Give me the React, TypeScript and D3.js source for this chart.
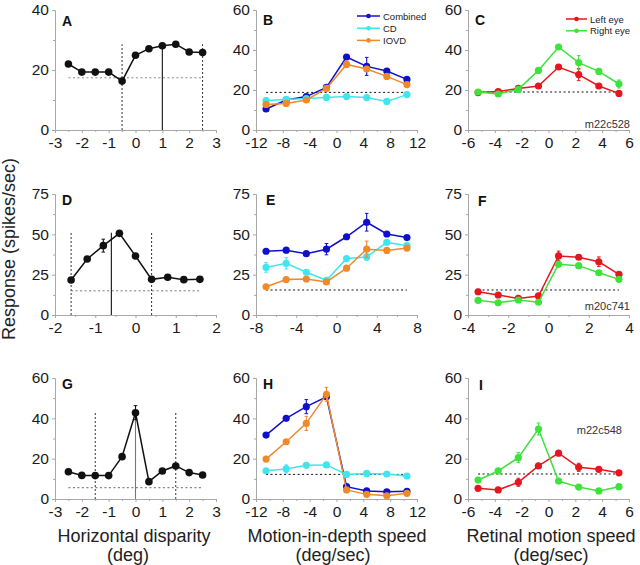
import React, { useEffect, useRef } from "react";
import * as d3 from "d3";

const W = 640;
const H = 565;
const FONT = "'Liberation Sans', Arial, Helvetica, sans-serif";

// ---------- x values ----------
const dispAG = [-2.5, -2, -1.5, -1, -0.5, 0, 0.5, 1, 1.5, 2, 2.5];
const dispD = [-1.6, -1.2, -0.8, -0.4, 0, 0.4, 0.8, 1.2, 1.6];
const speedBH = [-10.5, -7.5, -4.5, -1.5, 1.5, 4.5, 7.5, 10.5];
const speedE = [-7, -5, -3, -1, 1, 3, 5, 7];
const retCI = [-5.25, -3.75, -2.25, -0.75, 0.75, 2.25, 3.75, 5.25];
const retF = [-3.5, -2.5, -1.5, -0.5, 0.5, 1.5, 2.5, 3.5];

// ---------- disparity tuning (black) ----------
const respA = [22, 19.3, 19.3, 19.3, 16.3, 24.9, 27.1, 28.1, 28.6, 26, 25.8];
const errA = [0, 0, 0, 0, 0, 0, 0, 0, 0, 0, 0];
const respD = [21.7, 34.7, 43, 50.6, 36.6, 22.1, 23.4, 21.9, 22.1];
const errD = [0, 0, 4, 0, 0, 0, 0, 0, 0];
const respG = [13.5, 11.7, 11.6, 11.6, 21, 42.8, 8.6, 13.9, 16.4, 13.1, 11.9];
const errG = [0, 0, 0, 0, 0, 3.5, 0, 0, 0, 0, 0];

// ---------- motion-in-depth (Combined, CD, IOVD) ----------
const combB = [10.5, 15, 16.7, 21.3, 36.5, 31.8, 29.5, 25.3];
const combBErr = [0, 0, 0, 0, 0, 4.5, 1, 0];
const cdB = [14.7, 15.3, 15.7, 16.3, 16.7, 16.2, 14.3, 17.7];
const cdBErr = [0, 0, 0, 0, 0, 0, 0, 0];
const iovdB = [12.8, 13.3, 15, 20.8, 32.8, 30.5, 26.8, 22.7];
const iovdBErr = [0, 0, 0, 0, 1.5, 0, 0, 0];

const combE = [39.5, 40.2, 38, 40.8, 48.5, 57.5, 50.2, 48];
const combEErr = [0, 0, 0, 3.5, 0, 5.5, 0, 0];
const cdE = [29.5, 32, 26.5, 21.5, 35, 36, 45, 43];
const cdEErr = [3, 3.5, 0, 0, 0, 2, 0, 0];
const iovdE = [17.5, 22, 22.3, 20.5, 29, 40.8, 40, 41.5];
const iovdEErr = [0, 0, 0, 0, 0, 5, 0, 0];

const combH = [31.7, 40, 45.8, 50.7, 6.1, 4, 3.6, 3.8];
const combHErr = [0, 0, 3.5, 0, 0, 0, 0, 0];
const cdH = [14, 14.9, 16.7, 16.9, 12.2, 12.7, 12.4, 11.4];
const cdHErr = [0, 2, 0, 0, 0, 0, 0, 0];
const iovdH = [19.8, 28.4, 37.5, 51.9, 4.5, 2.3, 1.6, 2.8];
const iovdHErr = [0, 0, 3.5, 3.5, 0, 0, 0, 0];

// ---------- retinal motion (Left eye, Right eye) ----------
const leftC = [18.7, 19.2, 20.8, 22, 31.5, 27.7, 22, 18.3];
const leftCErr = [0, 0, 0, 0, 0, 3, 0, 0];
const rightC = [19, 18, 20.3, 29.8, 41.5, 33.7, 29.3, 23];
const rightCErr = [0, 0, 0, 0, 0, 3.5, 1.5, 2];

const leftF = [14.4, 12.4, 10.3, 11.8, 36.6, 35.8, 33, 25.2];
const leftFErr = [1.5, 0, 0, 0, 3, 0, 3, 0];
const rightF = [9.1, 7.6, 9.3, 7.9, 31.4, 30.6, 26.2, 22.1];
const rightFErr = [0, 0, 0, 0, 0, 0, 0, 0];

const leftI = [5.3, 4.5, 8.3, 16.4, 22.7, 15.7, 14.7, 13];
const leftIErr = [0, 0, 2, 0, 0, 2, 0, 0];
const rightI = [9.4, 13.9, 20.5, 34.7, 8.9, 5.9, 4, 6.1];
const rightIErr = [0, 0, 2.5, 3, 0, 0, 0, 0];

// ---------- spontaneous baselines ----------
const baseA = 17.4, baseD = 15, baseG = 5.6;
const baseB = 18.8, baseE = 15.5, baseH = 12.2;
const baseC = 19, baseF = 15.5, baseI = 12.4;

// ---------- labels ----------
const mdLegend = ["Combined", "CD", "IOVD"];
const eyeLegend = ["Left eye", "Right eye"];
const cellIds = ["m22c528", "m20c741", "m22c548"];
const panelLetters = ["A", "B", "C", "D", "E", "F", "G", "H", "I"];
const xTitles = [["Horizontal disparity", "(deg)"], ["Motion-in-depth speed", "(deg/sec)"], ["Retinal motion speed", "(deg/sec)"]];
const yTitle = "Response (spikes/sec)";

// ---------- ticks ----------
const ticks40 = [0, 20, 40], minor40 = [10, 30];
const ticks60 = [0, 20, 40, 60], minor60 = [10, 30, 50];
const ticks75 = [0, 25, 50, 75], minor75 = [12.5, 37.5, 62.5];
const xt3 = [-3, -2, -1, 0, 1, 2, 3], xm3 = [-2.5, -1.5, -0.5, 0.5, 1.5, 2.5];
const xt2 = [-2, -1, 0, 1, 2], xm2 = [-1.5, -0.5, 0.5, 1.5];
const xt12 = [-12, -8, -4, 0, 4, 8, 12], xm12 = [-10, -6, -2, 2, 6, 10];
const xt8 = [-8, -4, 0, 4, 8], xm8 = [-6, -2, 2, 6];
const xt6 = [-6, -4, -2, 0, 2, 4, 6], xm6 = [-5, -3, -1, 1, 3, 5];
const xt4 = [-4, -2, 0, 2, 4], xm4 = [-3, -1, 1, 3];

const BLACK = "#111";
const BLUE = "#1010cc";
const CYAN = "#3fe6f0";
const ORANGE = "#f0892a";
const RED = "#e6161e";
const GREEN = "#3de23d";

type Series = { x: number[]; y: number[]; err: number[]; color: string; r: number; w: number };
type VLine = { x: number; top: number; solid: boolean; color: string };
type Panel = {
  letter: string; letterX: number; letterY: number;
  left: number; right: number; top: number; bottom: number;
  xDomain: [number, number]; xMajor: number[]; xMinor: number[];
  yDomain: [number, number]; yMajor: number[]; yMinor: number[];
  series: Series[]; base: number; baseColor: string; baseX: [number, number];
  vlines?: VLine[];
  legend?: { labels: string[]; colors: string[]; x1: number; x2: number; y0: number; dy: number };
  tag?: { text: string; x: number; y: number };
};

const COLS = [[55, 216], [256, 417], [468, 629]];
const ROWS = [[10, 130], [194, 315], [378, 499]];

const mk = (x: number[], y: number[], err: number[], color: string, r = 3.6, w = 1.5): Series => ({ x, y, err, color, r, w });

const panels: Panel[] = [
  {
    letter: panelLetters[0], letterX: 62, letterY: 26,
    left: COLS[0][0], right: COLS[0][1], top: ROWS[0][0], bottom: ROWS[0][1],
    xDomain: [-3, 3], xMajor: xt3, xMinor: xm3, yDomain: [0, 40], yMajor: ticks40, yMinor: minor40,
    series: [mk(dispAG, respA, errA, BLACK, 3.8)], base: baseA, baseColor: "#888", baseX: [-2.5, 2.5],
    vlines: [
      { x: -0.5, top: 28.6, solid: false, color: "#333" },
      { x: 2.5, top: 28.6, solid: false, color: "#333" },
      { x: 1, top: 28.1, solid: true, color: "#111" },
    ],
  },
  {
    letter: panelLetters[1], letterX: 263, letterY: 25,
    left: COLS[1][0], right: COLS[1][1], top: ROWS[0][0], bottom: ROWS[0][1],
    xDomain: [-12, 12], xMajor: xt12, xMinor: xm12, yDomain: [0, 60], yMajor: ticks60, yMinor: minor60,
    series: [mk(speedBH, combB, combBErr, BLUE), mk(speedBH, cdB, cdBErr, CYAN), mk(speedBH, iovdB, iovdBErr, ORANGE)],
    base: baseB, baseColor: "#111", baseX: [-10.5, 10.5],
    legend: { labels: mdLegend, colors: [BLUE, CYAN, ORANGE], x1: 357, x2: 380, y0: 16, dy: 12.2 },
  },
  {
    letter: panelLetters[2], letterX: 475, letterY: 25,
    left: COLS[2][0], right: COLS[2][1], top: ROWS[0][0], bottom: ROWS[0][1],
    xDomain: [-6, 6], xMajor: xt6, xMinor: xm6, yDomain: [0, 60], yMajor: ticks60, yMinor: minor60,
    series: [mk(retCI, leftC, leftCErr, RED), mk(retCI, rightC, rightCErr, GREEN)],
    base: baseC, baseColor: "#111", baseX: [-5.25, 5.25],
    legend: { labels: eyeLegend, colors: [RED, GREEN], x1: 566, x2: 587, y0: 19, dy: 11.8 },
    tag: { text: cellIds[0], x: 630, y: 128 },
  },
  {
    letter: panelLetters[3], letterX: 62, letterY: 205,
    left: COLS[0][0], right: COLS[0][1], top: ROWS[1][0], bottom: ROWS[1][1],
    xDomain: [-2, 2], xMajor: xt2, xMinor: xm2, yDomain: [0, 75], yMajor: ticks75, yMinor: minor75,
    series: [mk(dispD, respD, errD, BLACK, 3.8)], base: baseD, baseColor: "#777", baseX: [-1.6, 1.6],
    vlines: [
      { x: -1.6, top: 51, solid: false, color: "#333" },
      { x: 0.4, top: 51, solid: false, color: "#333" },
      { x: -0.6, top: 51, solid: true, color: "#111" },
    ],
  },
  {
    letter: panelLetters[4], letterX: 266, letterY: 205,
    left: COLS[1][0], right: COLS[1][1], top: ROWS[1][0], bottom: ROWS[1][1],
    xDomain: [-8, 8], xMajor: xt8, xMinor: xm8, yDomain: [0, 75], yMajor: ticks75, yMinor: minor75,
    series: [mk(speedE, combE, combEErr, BLUE), mk(speedE, cdE, cdEErr, CYAN), mk(speedE, iovdE, iovdEErr, ORANGE)],
    base: baseE, baseColor: "#111", baseX: [-7, 7],
  },
  {
    letter: panelLetters[5], letterX: 478, letterY: 206,
    left: COLS[2][0], right: COLS[2][1], top: ROWS[1][0], bottom: ROWS[1][1],
    xDomain: [-4, 4], xMajor: xt4, xMinor: xm4, yDomain: [0, 75], yMajor: ticks75, yMinor: minor75,
    series: [mk(retF, leftF, leftFErr, RED), mk(retF, rightF, rightFErr, GREEN)],
    base: baseF, baseColor: "#111", baseX: [-3.5, 3.5],
    tag: { text: cellIds[1], x: 630, y: 310 },
  },
  {
    letter: panelLetters[6], letterX: 62, letterY: 389,
    left: COLS[0][0], right: COLS[0][1], top: ROWS[2][0], bottom: ROWS[2][1],
    xDomain: [-3, 3], xMajor: xt3, xMinor: xm3, yDomain: [0, 60], yMajor: ticks60, yMinor: minor60,
    series: [mk(dispAG, respG, errG, BLACK, 3.8)], base: baseG, baseColor: "#666", baseX: [-2.5, 2.5],
    vlines: [
      { x: -1.5, top: 42.8, solid: false, color: "#333" },
      { x: 1.5, top: 42.8, solid: false, color: "#333" },
      { x: 0, top: 42.8, solid: true, color: "#777" },
    ],
  },
  {
    letter: panelLetters[7], letterX: 263, letterY: 389,
    left: COLS[1][0], right: COLS[1][1], top: ROWS[2][0], bottom: ROWS[2][1],
    xDomain: [-12, 12], xMajor: xt12, xMinor: xm12, yDomain: [0, 60], yMajor: ticks60, yMinor: minor60,
    series: [mk(speedBH, combH, combHErr, BLUE), mk(speedBH, iovdH, iovdHErr, ORANGE), mk(speedBH, cdH, cdHErr, CYAN)],
    base: baseH, baseColor: "#111", baseX: [-10.5, 10.5],
  },
  {
    letter: panelLetters[8], letterX: 479, letterY: 390,
    left: COLS[2][0], right: COLS[2][1], top: ROWS[2][0], bottom: ROWS[2][1],
    xDomain: [-6, 6], xMajor: xt6, xMinor: xm6, yDomain: [0, 60], yMajor: ticks60, yMinor: minor60,
    series: [mk(retCI, leftI, leftIErr, RED), mk(retCI, rightI, rightIErr, GREEN)],
    base: baseI, baseColor: "#111", baseX: [-5.25, 5.25],
    tag: { text: cellIds[2], x: 622, y: 434 },
  },
];

const AXIS_COLOR = "#a8a8a8";

function styleAxis(g: d3.Selection<SVGGElement, unknown, null, undefined>) {
  g.select(".domain").attr("stroke", AXIS_COLOR).attr("stroke-width", 1);
  g.selectAll(".tick line").attr("stroke", AXIS_COLOR).attr("stroke-width", 1);
  g.selectAll(".tick text").attr("fill", "#1a1a1a").attr("font-size", 15.5).attr("font-family", FONT);
}

function drawPanel(root: d3.Selection<SVGSVGElement, unknown, null, undefined>, p: Panel) {
  const x = d3.scaleLinear().domain(p.xDomain).range([p.left, p.right]);
  const y = d3.scaleLinear().domain(p.yDomain).range([p.bottom, p.top]);
  const g = root.append("g");
  const fmt = (d: d3.NumberValue) => String(d);

  // minor ticks
  const xm = g.append("g").attr("transform", `translate(0,${p.bottom})`)
    .call(d3.axisBottom(x).tickValues(p.xMinor).tickSize(2).tickSizeOuter(0).tickFormat(() => ""));
  styleAxis(xm);
  const ym = g.append("g").attr("transform", `translate(${p.left},0)`)
    .call(d3.axisLeft(y).tickValues(p.yMinor).tickSize(2).tickSizeOuter(0).tickFormat(() => ""));
  styleAxis(ym);
  // major axes
  const xa = g.append("g").attr("transform", `translate(0,${p.bottom})`)
    .call(d3.axisBottom(x).tickValues(p.xMajor).tickSize(3).tickPadding(4).tickSizeOuter(0).tickFormat(fmt));
  styleAxis(xa);
  const ya = g.append("g").attr("transform", `translate(${p.left},0)`)
    .call(d3.axisLeft(y).tickValues(p.yMajor).tickSize(3).tickPadding(3).tickSizeOuter(0).tickFormat(fmt));
  styleAxis(ya);

  // baseline (spontaneous)
  g.append("line")
    .attr("x1", x(p.baseX[0])).attr("x2", x(p.baseX[1]))
    .attr("y1", y(p.base)).attr("y2", y(p.base))
    .attr("stroke", p.baseColor).attr("stroke-width", 1).attr("stroke-dasharray", "2,2.5");

  // vertical reference lines
  (p.vlines || []).forEach((v) => {
    g.append("line")
      .attr("x1", x(v.x)).attr("x2", x(v.x))
      .attr("y1", y(0)).attr("y2", y(v.top))
      .attr("stroke", v.color).attr("stroke-width", v.solid ? 1.1 : 1)
      .attr("stroke-dasharray", v.solid ? null : "2,2");
  });

  // series
  p.series.forEach((s) => {
    const pts = s.x.map((xv, i) => [xv, s.y[i], s.err[i]] as [number, number, number]);
    const line = d3.line<[number, number, number]>().x((d) => x(d[0])).y((d) => y(d[1]));
    const sg = g.append("g");
    sg.append("path").attr("d", line(pts)).attr("fill", "none").attr("stroke", s.color).attr("stroke-width", s.w);
    pts.filter((d) => d[2] > 0).forEach((d) => {
      const cx = x(d[0]);
      sg.append("line").attr("x1", cx).attr("x2", cx).attr("y1", y(d[1] - d[2])).attr("y2", y(d[1] + d[2]))
        .attr("stroke", s.color).attr("stroke-width", 1.1);
      [d[1] - d[2], d[1] + d[2]].forEach((e) => {
        sg.append("line").attr("x1", cx - 1.8).attr("x2", cx + 1.8).attr("y1", y(e)).attr("y2", y(e))
          .attr("stroke", s.color).attr("stroke-width", 1);
      });
    });
    sg.selectAll("circle").data(pts).join("circle")
      .attr("cx", (d) => x(d[0])).attr("cy", (d) => y(d[1])).attr("r", s.r).attr("fill", s.color);
  });

  // legend
  if (p.legend) {
    const L = p.legend;
    L.labels.forEach((lab, i) => {
      const yy = L.y0 + i * L.dy;
      g.append("line").attr("x1", L.x1).attr("x2", L.x2).attr("y1", yy).attr("y2", yy)
        .attr("stroke", L.colors[i]).attr("stroke-width", 1.5);
      g.append("circle").attr("cx", (L.x1 + L.x2) / 2).attr("cy", yy).attr("r", 2.3).attr("fill", L.colors[i]);
      g.append("text").attr("x", L.x2 + 3).attr("y", yy + 3.5).text(lab)
        .attr("font-size", 9.5).attr("font-family", FONT).attr("fill", "#222");
    });
  }

  // tag
  if (p.tag) {
    g.append("text").attr("x", p.tag.x).attr("y", p.tag.y).attr("text-anchor", "end").text(p.tag.text)
      .attr("font-size", 11).attr("font-family", FONT).attr("fill", "#333");
  }

  // panel letter
  g.append("text").attr("x", p.letterX).attr("y", p.letterY).text(p.letter)
    .attr("font-size", 14).attr("font-weight", "bold").attr("font-family", FONT).attr("fill", "#111");
}

export default function App() {
  const ref = useRef<SVGSVGElement | null>(null);
  useEffect(() => {
    if (!ref.current) return;
    const svg = d3.select(ref.current);
    svg.selectAll("*").remove();
    svg.append("rect").attr("width", W).attr("height", H).attr("fill", "#fff");
    panels.forEach((p) => drawPanel(svg, p));

    // y title
    svg.append("text").attr("transform", "translate(15,249) rotate(-90)").attr("text-anchor", "middle")
      .text(yTitle).attr("font-size", 18).attr("font-family", FONT).attr("fill", "#222");

    // x titles
    const centers = [[134, 128], [337, 333], [551, 551]];
    xTitles.forEach((t, i) => {
      svg.append("text").attr("x", centers[i][0]).attr("y", 542).attr("text-anchor", "middle").text(t[0])
        .attr("font-size", 18).attr("font-family", FONT).attr("fill", "#222");
      svg.append("text").attr("x", centers[i][1]).attr("y", 561).attr("text-anchor", "middle").text(t[1])
        .attr("font-size", 18).attr("font-family", FONT).attr("fill", "#222");
    });
  }, []);
  return (
    <svg ref={ref} width={W} height={H} style={{ position: "absolute", left: 0, top: 0, display: "block" }} />
  );
}
